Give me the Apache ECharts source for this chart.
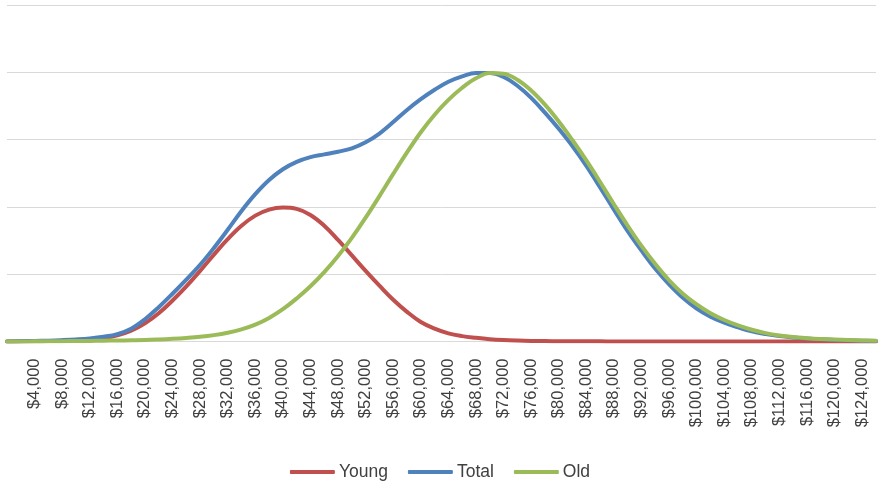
<!DOCTYPE html>
<html>
<head>
<meta charset="utf-8">
<script src="https://cdn.jsdelivr.net/npm/echarts@6/dist/echarts.min.js"></script>
<style>
  html, body { margin: 0; padding: 0; background: #ffffff; }
  #chart { width: 880px; height: 484px; }
</style>
</head>
<body>
<div id="chart"></div>
<script>
// Income levels (dollars), one point every $2,000
const incomes = [
  0, 2000, 4000, 6000, 8000, 10000, 12000, 14000, 16000, 18000,
  20000, 22000, 24000, 26000, 28000, 30000, 32000, 34000, 36000, 38000,
  40000, 42000, 44000, 46000, 48000, 50000, 52000, 54000, 56000, 58000,
  60000, 62000, 64000, 66000, 68000, 70000, 72000, 74000, 76000, 78000,
  80000, 82000, 84000, 86000, 88000, 90000, 92000, 94000, 96000, 98000,
  100000, 102000, 104000, 106000, 108000, 110000, 112000, 114000, 116000, 118000,
  120000, 122000, 124000, 126000
];

const young = [
  0.0, 0.002, 0.004, 0.007, 0.012, 0.02, 0.03, 0.05, 0.09, 0.16,
  0.27, 0.42, 0.61, 0.82, 1.05, 1.29, 1.52, 1.72, 1.87, 1.96,
  1.99, 1.97, 1.88, 1.72, 1.51, 1.28, 1.05, 0.83, 0.62, 0.44,
  0.29, 0.19, 0.12, 0.08, 0.055, 0.035, 0.022, 0.014, 0.009, 0.006,
  0.004, 0.003, 0.002, 0.002, 0.001, 0.001, 0.001, 0.0, 0.0, 0.0,
  0.0, 0.0, 0.0, 0.0, 0.0, 0.0, 0.0, 0.0, 0.0, 0.0,
  0.0, 0.0, 0.0, 0.0
];

const total = [
  0.0, 0.004, 0.008, 0.013, 0.02, 0.03, 0.045, 0.07, 0.11, 0.19,
  0.33, 0.51, 0.71, 0.92, 1.14, 1.39, 1.66, 1.94, 2.19, 2.40,
  2.56, 2.67, 2.74, 2.78, 2.82, 2.87, 2.96, 3.09, 3.26, 3.44,
  3.60, 3.74, 3.86, 3.94, 3.99, 3.99, 3.93, 3.80, 3.62, 3.40,
  3.16, 2.90, 2.61, 2.29, 1.96, 1.64, 1.35, 1.08, 0.85, 0.65,
  0.49, 0.37, 0.28, 0.21, 0.15, 0.11, 0.08, 0.06, 0.045, 0.033,
  0.024, 0.017, 0.011, 0.007
];

const old = [
  0.0, 0.001, 0.002, 0.003, 0.005, 0.007, 0.009, 0.012, 0.015, 0.018,
  0.022, 0.03, 0.04, 0.053, 0.07, 0.095, 0.13, 0.18, 0.25, 0.35,
  0.48, 0.64, 0.82, 1.03, 1.27, 1.54, 1.84, 2.16, 2.49, 2.81,
  3.11, 3.37, 3.59, 3.77, 3.91, 3.99, 3.98, 3.89, 3.73, 3.52,
  3.27, 2.99, 2.69, 2.37, 2.04, 1.72, 1.42, 1.15, 0.91, 0.71,
  0.55, 0.42, 0.32, 0.24, 0.175, 0.125, 0.09, 0.066, 0.05, 0.038,
  0.029, 0.021, 0.015, 0.01
];

const seriesNames = ['Young', 'Total', 'Old'];
const seriesColors = ['#C0504D', '#4F81BD', '#9BBB59'];
const seriesData = [young, total, old];

const fmtMoney = v => '$' + Number(v).toLocaleString('en-US');

const chart = echarts.init(document.getElementById('chart'), null, { renderer: 'canvas' });

chart.setOption({
  animation: false,
  backgroundColor: '#ffffff',
  textStyle: { fontFamily: 'Liberation Sans, Arial, sans-serif' },
  grid: { left: 7, right: 4, top: 5, bottom: 142.5, containLabel: false },
  legend: {
    bottom: -2,
    left: 'center',
    icon: 'roundRect',
    itemWidth: 45,
    itemHeight: 4,
    itemGap: 20,
    textStyle: { fontSize: 17.5, color: '#404040', padding: [0, 0, 0, -1] },
    data: seriesNames
  },
  xAxis: {
    type: 'category',
    boundaryGap: false,
    data: incomes.map(fmtMoney),
    axisLine: { show: true, lineStyle: { color: '#d9d9d9', width: 1 } },
    axisTick: { show: false },
    axisLabel: {
      rotate: 90,
      margin: 17,
      fontSize: 16.5,
      color: '#404040',
      interval: (i) => i % 2 === 0 && i >= 2 && i <= 62
    },
    splitLine: { show: false }
  },
  yAxis: {
    type: 'value',
    min: 0,
    max: 5,
    interval: 1,
    axisLabel: { show: false },
    axisLine: { show: false },
    axisTick: { show: false },
    splitLine: { show: true, lineStyle: { color: '#d9d9d9', width: 1 } }
  },
  series: seriesNames.map((name, i) => ({
    name,
    type: 'line',
    data: seriesData[i],
    smooth: 0.4,
    showSymbol: false,
    symbol: 'none',
    lineStyle: { color: seriesColors[i], width: 4, cap: 'round', join: 'round' },
    itemStyle: { color: seriesColors[i] }
  }))
});
</script>
</body>
</html>
